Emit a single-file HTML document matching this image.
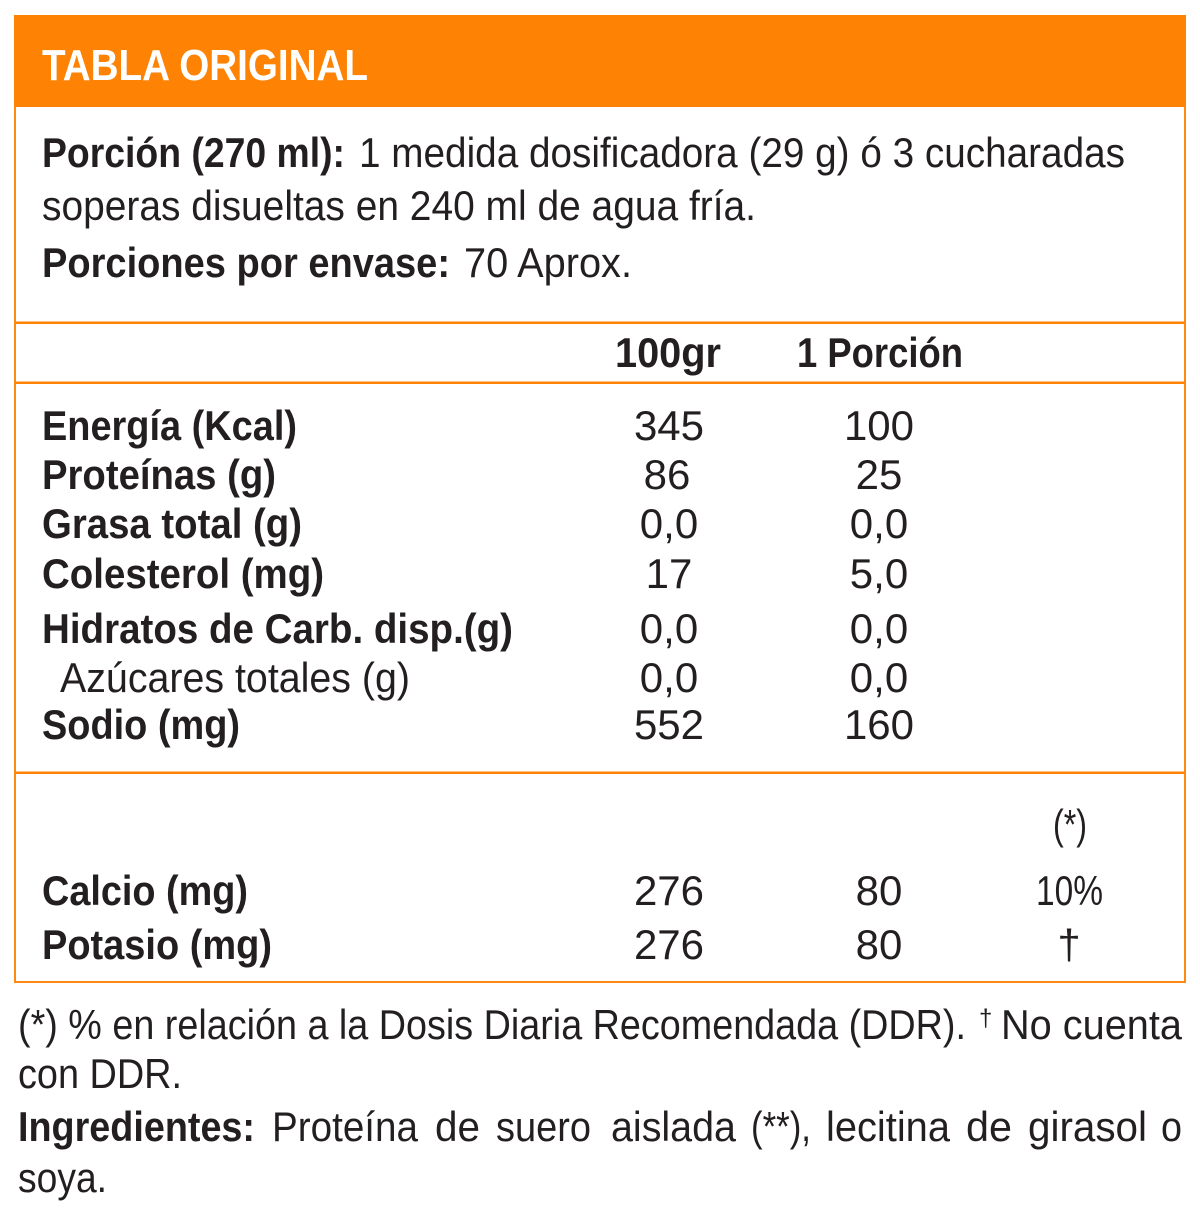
<!DOCTYPE html>
<html>
<head>
<meta charset="utf-8">
<style>
  html,body{margin:0;padding:0;background:#fff;}
  svg{display:block;}
  text{font-family:"Liberation Sans", sans-serif;fill:#231f20;}
  .b{font-weight:bold;}
</style>
</head>
<body>
<svg width="1200" height="1219" viewBox="0 0 1200 1219" xmlns="http://www.w3.org/2000/svg">
  <rect x="0" y="0" width="1200" height="1219" fill="#fff"/>
  <!-- box border -->
  <rect x="15" y="16" width="1170" height="966" fill="none" stroke="#FE8A12" stroke-width="2"/>
  <!-- header band -->
  <rect x="14" y="15" width="1172" height="92" fill="#FE8204"/>
  <text x="42" y="80" font-size="44" class="b" style="fill:#fff" textLength="326" lengthAdjust="spacingAndGlyphs">TABLA ORIGINAL</text>

  <!-- portion info -->
  <text x="42" y="167" font-size="42" class="b" textLength="303" lengthAdjust="spacingAndGlyphs">Porción (270 ml):</text>
  <text x="359" y="167" font-size="42" textLength="766" lengthAdjust="spacingAndGlyphs">1 medida dosificadora (29 g) ó 3 cucharadas</text>
  <text x="42" y="220" font-size="42" textLength="714" lengthAdjust="spacingAndGlyphs">soperas disueltas en 240 ml de agua fría.</text>
  <text x="42" y="277" font-size="42" class="b" textLength="408" lengthAdjust="spacingAndGlyphs">Porciones por envase:</text>
  <text x="464" y="277" font-size="42" textLength="168" lengthAdjust="spacingAndGlyphs">70 Aprox.</text>

  <!-- separators -->
  <rect x="15" y="321.5" width="1170" height="2.5" fill="#FE8204"/>
  <rect x="15" y="381.5" width="1170" height="2.5" fill="#FE8204"/>
  <rect x="15" y="771.5" width="1170" height="2.5" fill="#FE8204"/>

  <!-- column headers -->
  <text x="615" y="367" font-size="42" class="b" textLength="106" lengthAdjust="spacingAndGlyphs">100gr</text>
  <text x="797" y="367" font-size="42" class="b" textLength="166" lengthAdjust="spacingAndGlyphs">1 Porción</text>

  <!-- labels -->
  <text x="42" y="440" font-size="42" class="b" textLength="255" lengthAdjust="spacingAndGlyphs">Energía (Kcal)</text>
  <text x="42" y="489" font-size="42" class="b" textLength="234" lengthAdjust="spacingAndGlyphs">Proteínas (g)</text>
  <text x="42" y="538" font-size="42" class="b" textLength="260" lengthAdjust="spacingAndGlyphs">Grasa total (g)</text>
  <text x="42" y="588" font-size="42" class="b" textLength="282" lengthAdjust="spacingAndGlyphs">Colesterol (mg)</text>
  <text x="42" y="643" font-size="42" class="b" textLength="471" lengthAdjust="spacingAndGlyphs">Hidratos de Carb. disp.(g)</text>
  <text x="60" y="692" font-size="42" textLength="350" lengthAdjust="spacingAndGlyphs">Azúcares totales (g)</text>
  <text x="42" y="739" font-size="42" class="b" textLength="198" lengthAdjust="spacingAndGlyphs">Sodio (mg)</text>

  <!-- values -->
  <g font-size="42" text-anchor="middle">
    <text x="669" y="440">345</text>
    <text x="667" y="489">86</text>
    <text x="669" y="538">0,0</text>
    <text x="669" y="588">17</text>
    <text x="669" y="643">0,0</text>
    <text x="669" y="692">0,0</text>
    <text x="669" y="739">552</text>

    <text x="879" y="440">100</text>
    <text x="879" y="489">25</text>
    <text x="879" y="538">0,0</text>
    <text x="879" y="588">5,0</text>
    <text x="879" y="643">0,0</text>
    <text x="879" y="692">0,0</text>
    <text x="879" y="739">160</text>

    <text x="669" y="905">276</text>
    <text x="879" y="905">80</text>

    <text x="669" y="959">276</text>
    <text x="879" y="959">80</text>
    <text x="1069" y="959">†</text>
  </g>
  <text x="1053" y="839" font-size="42" textLength="34" lengthAdjust="spacingAndGlyphs">(*)</text>
  <text x="1036" y="905" font-size="42" textLength="67" lengthAdjust="spacingAndGlyphs">10%</text>

  <text x="42" y="905" font-size="42" class="b" textLength="206" lengthAdjust="spacingAndGlyphs">Calcio (mg)</text>
  <text x="42" y="959" font-size="42" class="b" textLength="230" lengthAdjust="spacingAndGlyphs">Potasio (mg)</text>

  <!-- footer -->
  <text x="18" y="1039" font-size="42" textLength="948" lengthAdjust="spacingAndGlyphs">(*) % en relación a la Dosis Diaria Recomendada (DDR).</text>
  <text x="979" y="1026" font-size="24">†</text>
  <text x="1001" y="1039" font-size="42" textLength="181" lengthAdjust="spacingAndGlyphs">No cuenta</text>
  <text x="18" y="1088" font-size="42" textLength="164" lengthAdjust="spacingAndGlyphs">con DDR.</text>

  <text x="18" y="1141" font-size="42" class="b" textLength="237" lengthAdjust="spacingAndGlyphs">Ingredientes:</text>
  <text x="272" y="1141" font-size="42" textLength="146" lengthAdjust="spacingAndGlyphs">Proteína</text>
  <text x="435" y="1141" font-size="42" textLength="45" lengthAdjust="spacingAndGlyphs">de</text>
  <text x="496" y="1141" font-size="42" textLength="95" lengthAdjust="spacingAndGlyphs">suero</text>
  <text x="611" y="1141" font-size="42" textLength="125" lengthAdjust="spacingAndGlyphs">aislada</text>
  <text x="751" y="1141" font-size="42" textLength="60" lengthAdjust="spacingAndGlyphs">(**),</text>
  <text x="826" y="1141" font-size="42" textLength="124" lengthAdjust="spacingAndGlyphs">lecitina</text>
  <text x="966" y="1141" font-size="42" textLength="46" lengthAdjust="spacingAndGlyphs">de</text>
  <text x="1028" y="1141" font-size="42" textLength="119" lengthAdjust="spacingAndGlyphs">girasol</text>
  <text x="1161" y="1141" font-size="42" textLength="21" lengthAdjust="spacingAndGlyphs">o</text>
  <text x="18" y="1192" font-size="42" textLength="89" lengthAdjust="spacingAndGlyphs">soya.</text>
</svg>
</body>
</html>
